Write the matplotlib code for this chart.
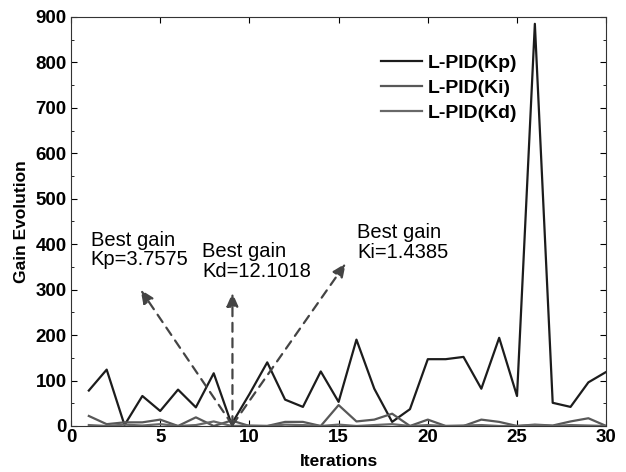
import numpy as np
import matplotlib.pyplot as plt
from matplotlib.ticker import MultipleLocator

plt.rcParams['font.family'] = ['Liberation Sans', 'DejaVu Sans']

# iteration number and gain values
iterations = list(range(1, 31))
kp = [78, 124, 2, 66, 33, 80, 41, 116, 4, 70, 140, 58, 42, 120, 53,
      190, 82, 9, 37, 147, 147, 152, 82, 194, 66, 885, 51, 42, 96, 119]
ki = [22, 4, 8, 8, 14, 0, 19, 0, 12, 0, 0, 9, 9, 0, 46,
      10, 14, 27, 0, 14, 0, 0, 14, 9, 0, 3, 1, 10, 17, 0]
kd = [2, 0, 3, 1, 4, 0, 2, 10, 0, 1, 0, 3, 2, 0, 3,
      0, 2, 4, 0, 2, 0, 1, 2, 0, 0, 2, 0, 2, 1, 0]

# annotations: (text, text anchor x, y, arrow tip x, y)
notes = [
    ("Best gain\nKp=3.7575", 1.1, 430, 3.9, 300),
    ("Best gain\nKd=12.1018", 7.35, 404, 9.05, 293),
    ("Best gain\nKi=1.4385", 16.05, 446, 15.4, 358),
]
arrow_start = (9.05, 2)

fig = plt.figure(figsize=(6.26, 4.72), dpi=100)
ax = fig.add_axes([0.1134, 0.0975, 0.855, 0.8665])

ax.plot(iterations, kp, color='#1c1c1c', lw=1.6, label='L-PID(Kp)')
ax.plot(iterations, ki, color='#585858', lw=1.6, label='L-PID(Ki)')
ax.plot(iterations, kd, color='#686868', lw=1.6, label='L-PID(Kd)')

for txt, tx, ty, ax_, ay in notes:
    ax.text(tx, ty, txt, fontsize=14.5, va='top', ha='left', linespacing=1.05)
    ax.annotate('', xy=(ax_, ay), xytext=arrow_start,
                arrowprops=dict(arrowstyle='-|>,head_length=0.8,head_width=0.35',
                                linestyle=(0, (4, 3)), color='#444444', lw=1.6,
                                shrinkA=0, shrinkB=0))

ax.set_xlim(0, 30)
ax.set_ylim(0, 900)
ax.xaxis.set_major_locator(MultipleLocator(5))
ax.yaxis.set_major_locator(MultipleLocator(100))
ax.yaxis.set_minor_locator(MultipleLocator(50))
ax.tick_params(which='both', direction='in', top=True, right=True)
ax.tick_params(which='major', length=4, labelsize=13.5, pad=2)
ax.tick_params(axis='y', which='major', pad=3)
ax.tick_params(which='minor', length=2)
for lab in ax.get_xticklabels() + ax.get_yticklabels():
    lab.set_fontweight('bold')

ax.set_xlabel('Iterations', fontsize=12.5, fontweight='bold', labelpad=6)
ax.set_ylabel('Gain Evolution', fontsize=12.5, fontweight='bold', labelpad=5)

leg = ax.legend(loc='upper left', bbox_to_anchor=(0.565, 0.927), borderaxespad=0,
                frameon=False, prop={'weight': 'bold', 'size': 14},
                handlelength=2.1, handletextpad=0.28, labelspacing=0.38)

for sp in ax.spines.values():
    sp.set_color('#333333')

fig.savefig('out.png', dpi=100)
